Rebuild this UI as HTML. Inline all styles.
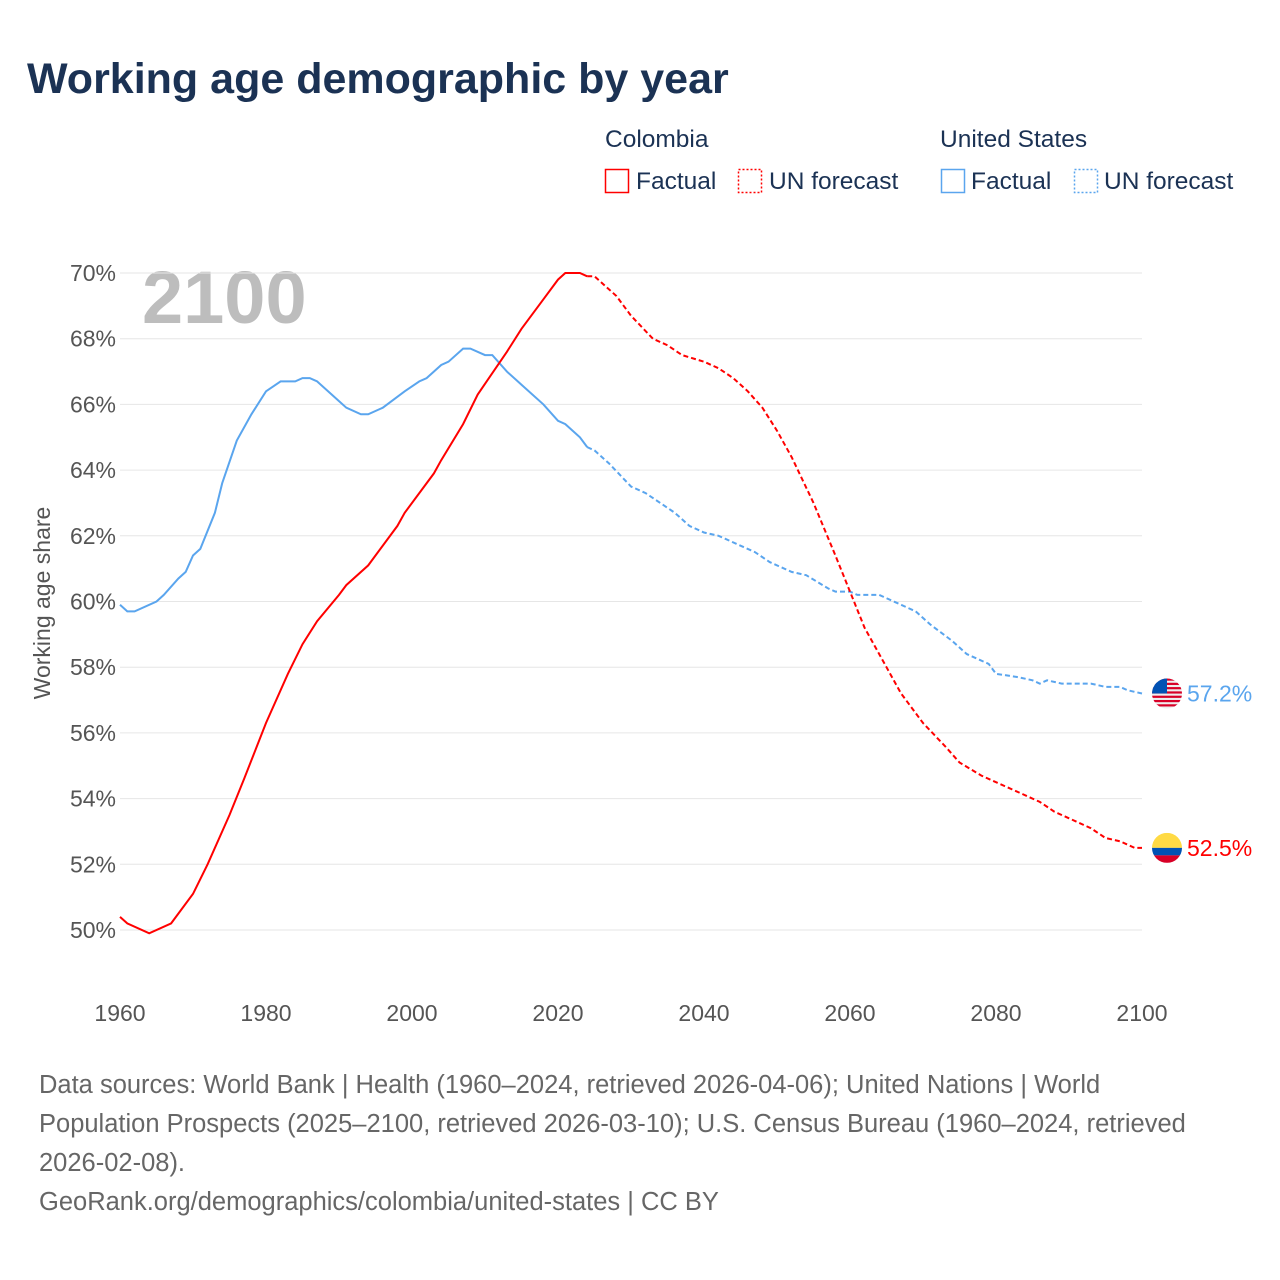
<!DOCTYPE html>
<html><head><meta charset="utf-8">
<style>
body{margin:0;background:#fff;font-family:"Liberation Sans",sans-serif;}
#wrap{position:relative;width:1280px;height:1280px;overflow:hidden;}
</style></head>
<body>
<div id="wrap">
<svg id="chart" width="1280" height="1280" xmlns="http://www.w3.org/2000/svg">
<text x="27" y="93" font-size="43" font-weight="bold" fill="#1b3254">Working age demographic by year</text>
<g font-size="24.5" fill="#1b3254">
<text x="605" y="147">Colombia</text>
<rect x="605.5" y="169.5" width="23" height="23" fill="none" stroke="#f00" stroke-width="1.5"/>
<text x="636" y="189">Factual</text>
<rect x="738.5" y="169.5" width="23" height="23" fill="none" stroke="#f00" stroke-width="1.5" stroke-dasharray="2,2"/>
<text x="769" y="189">UN forecast</text>
<text x="940" y="147">United States</text>
<rect x="941.5" y="169.5" width="23" height="23" fill="none" stroke="#5aa5ee" stroke-width="1.5"/>
<text x="971" y="189">Factual</text>
<rect x="1074.5" y="169.5" width="23" height="23" fill="none" stroke="#5aa5ee" stroke-width="1.5" stroke-dasharray="2,2"/>
<text x="1104" y="189">UN forecast</text>
</g>
<text x="142" y="323" font-size="74" font-weight="bold" fill="#bdbdbd">2100</text>
<text transform="translate(50,603) rotate(-90)" text-anchor="middle" font-size="23" fill="#555">Working age share</text>
<g id="grid"></g><g id="series"></g>
<g font-size="25.5" fill="#666">
<text x="39" y="1093">Data sources: World Bank | Health (1960–2024, retrieved 2026-04-06); United Nations | World</text>
<text x="39" y="1132">Population Prospects (2025–2100, retrieved 2026-03-10); U.S. Census Bureau (1960–2024, retrieved</text>
<text x="39" y="1171">2026-02-08).</text>
<text x="39" y="1210">GeoRank.org/demographics/colombia/united-states | CC BY</text>
</g>
</svg>
</div>
<script>
const yTicks=[50,52,54,56,58,60,62,64,66,68,70];
const xTicks=[1960,1980,2000,2020,2040,2060,2080,2100];
const coYears=[1960,1961,1964,1967,1970,1972,1975,1977,1980,1983,1985,1987,1990,1991,1994,1998,1999,2003,2004,2007,2009,2013,2015,2018,2020,2021,2023,2024,2025,2028,2030,2033,2035,2037,2040,2042,2044,2046,2048,2050,2052,2055,2058,2060,2062,2065,2067,2070,2073,2075,2078,2080,2083,2086,2088,2090,2093,2095,2097,2099,2100];
const coValues=[50.4,50.2,49.9,50.2,51.1,52.0,53.5,54.6,56.3,57.8,58.7,59.4,60.2,60.5,61.1,62.3,62.7,63.9,64.3,65.4,66.3,67.6,68.3,69.2,69.8,70.0,70.0,69.9,69.9,69.3,68.7,68.0,67.8,67.5,67.3,67.1,66.8,66.4,65.9,65.2,64.4,63.0,61.4,60.3,59.2,58.0,57.2,56.3,55.6,55.1,54.7,54.5,54.2,53.9,53.6,53.4,53.1,52.8,52.7,52.5,52.5];
const usYears=[1960,1961,1962,1965,1966,1968,1969,1970,1971,1973,1974,1976,1978,1980,1982,1984,1985,1986,1987,1990,1991,1993,1994,1996,1999,2001,2002,2004,2005,2007,2008,2010,2011,2013,2015,2018,2020,2021,2023,2024,2025,2027,2030,2032,2034,2036,2038,2040,2042,2045,2047,2049,2052,2054,2057,2058,2060,2061,2064,2066,2069,2071,2074,2076,2079,2080,2083,2085,2086,2087,2089,2093,2095,2097,2098,2100];
const usValues=[59.9,59.7,59.7,60.0,60.2,60.7,60.9,61.4,61.6,62.7,63.6,64.9,65.7,66.4,66.7,66.7,66.8,66.8,66.7,66.1,65.9,65.7,65.7,65.9,66.4,66.7,66.8,67.2,67.3,67.7,67.7,67.5,67.5,67.0,66.6,66.0,65.5,65.4,65.0,64.7,64.6,64.2,63.5,63.3,63.0,62.7,62.3,62.1,62.0,61.7,61.5,61.2,60.9,60.8,60.4,60.3,60.3,60.2,60.2,60.0,59.7,59.3,58.8,58.4,58.1,57.8,57.7,57.6,57.5,57.6,57.5,57.5,57.4,57.4,57.3,57.2];
const forecastStart=2024;
const X0=120,X1=1142,Y0=930,Y1=273;
const xs=y=>X0+(y-1960)/(2100-1960)*(X1-X0);
const ys=v=>Y0-(v-50)/(70-50)*(Y0-Y1);
const NS="http://www.w3.org/2000/svg";
function mk(tag,attrs,parent){const e=document.createElementNS(NS,tag);for(const k in attrs)e.setAttribute(k,attrs[k]);parent.appendChild(e);return e;}
const grid=document.getElementById('grid');
yTicks.forEach(t=>{
 const l=mk('line',{x1:X0,x2:X1,y1:ys(t),y2:ys(t),stroke:'#e6e6e6','stroke-width':1},grid);
 
 
 const tx=mk('text',{x:116,y:ys(t)+8,'text-anchor':'end','font-size':23,fill:'#555'},grid);
 tx.textContent=t+'%';
 
 
});
xTicks.forEach(t=>{
 const tx=mk('text',{x:xs(t),y:1021,'text-anchor':'middle','font-size':23,fill:'#555'},grid);
 tx.textContent=t;
 
 
});
const ser=document.getElementById('series');
function draw(years,vals,color,name){
 const a=[],b=[];
 years.forEach((y,i)=>{const p=xs(y).toFixed(1)+','+ys(vals[i]).toFixed(1);if(y<=forecastStart)a.push(p);if(y>=forecastStart)b.push(p);});
 const l1=mk('polyline',{points:a.join(' '),fill:'none',stroke:color,'stroke-width':2},ser);
 
 
 const l2=mk('polyline',{points:b.join(' '),fill:'none',stroke:color,'stroke-width':2,'stroke-dasharray':'5,3'},ser);
 
 
 const last=vals[vals.length-1];
 const cy=ys(last);
 const g=mk('g',{},ser);
 
 
 const cp=mk('clipPath',{id:'cp'+name},g);
 mk('circle',{cx:1167,cy:cy,r:15},cp);
 const fg=mk('g',{'clip-path':'url(#cp'+name+')'},g);
 if(name==='colombia'){
  mk('rect',{x:1152,y:cy-15,width:30,height:15,fill:'#ffda44'},fg);
  mk('rect',{x:1152,y:cy,width:30,height:7.5,fill:'#0052b4'},fg);
  mk('rect',{x:1152,y:cy+7.5,width:30,height:7.5,fill:'#d80027'},fg);
 }else{
  mk('rect',{x:1152,y:cy-15,width:30,height:30,fill:'#eee'},fg);
  for(let i=0;i<7;i++)mk('rect',{x:1152,y:cy-15+i*4.3,width:30,height:2.2,fill:'#d80027'},fg);
  mk('rect',{x:1152,y:cy-15,width:15,height:15,fill:'#0052b4'},fg);
 }
 const t=mk('text',{x:1187,y:cy+8,'font-size':23,fill:color},ser);
 t.textContent=last.toFixed(1)+'%';
 
 
}
draw(usYears,usValues,'#5aa5ee','united-states');
draw(coYears,coValues,'#ff0000','colombia');
</script>
</body></html>
